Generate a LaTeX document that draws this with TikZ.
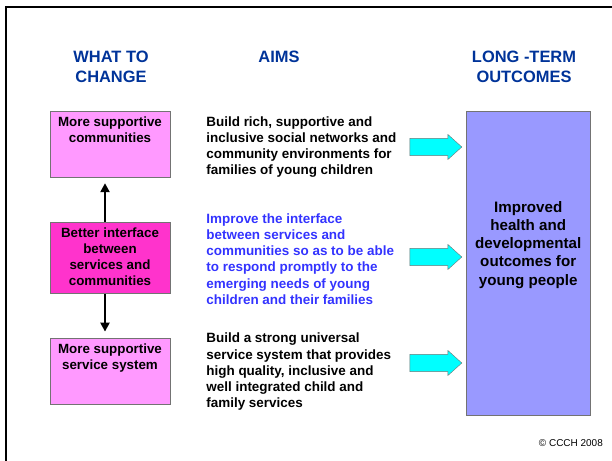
\documentclass[tikz,border=0pt]{standalone}
\usepackage{fontspec}
\setmainfont{Liberation Sans}
\usetikzlibrary{positioning,shapes.arrows,arrows.meta}
\definecolor{headblue}{HTML}{003399}
\definecolor{aimblue}{HTML}{3333FF}
\definecolor{softpink}{HTML}{FF99FF}
\definecolor{hotpink}{HTML}{FF33CC}
\definecolor{lilac}{HTML}{9999FF}
\definecolor{aqua}{HTML}{00FFFF}
\begin{document}
\begin{tikzpicture}[
        x=1bp, y=1bp,
        heading/.style={font=\fontsize{16.5}{20}\selectfont\bfseries, text=headblue, align=center, anchor=north, inner sep=0pt}, % Column titles
        changebox/.style={draw=black!55, minimum width=120bp, minimum height=66bp}, % Box styling
        boxtext/.style={anchor=north, align=center, inner sep=0pt, yshift=-6bp, font=\fontsize{13.4}{16.3}\selectfont\bfseries}, % Text at top of a box
        aim/.style={anchor=west, align=left, inner sep=0pt, font=\fontsize{13.5}{16.3}\selectfont\bfseries}, % Aim text
        blockarrow/.style={single arrow, draw=black!55, fill=aqua, minimum height=52bp, minimum width=25bp, inner sep=0pt, inner ysep=6.5bp, single arrow head extend=3bp, single arrow tip angle=84}, % Cyan arrows
        link/.style={line width=2.8bp, -{Triangle[length=9bp,width=9bp]}, shorten >=6bp} % Black arrows
        ]
        \useasboundingbox (0,0) rectangle (612,461);
        \draw[line width=2.5bp] (6,0) |- (612,454);

        % Column titles
        \node (changeTitle) [heading] at (111,410) {WHAT TO\\CHANGE};
        \node (aimsTitle) [heading] at (279,410) {AIMS};
        \node (outcomesTitle) [heading] at (524,410) {LONG -TERM\\OUTCOMES};

        % Define nodes
        \node (communities) [changebox, fill=softpink, label={[boxtext]north:More supportive\\communities}] at (110,317) {};
        \node (interface) [changebox, fill=hotpink, minimum height=71bp, below=45bp of communities, label={[boxtext, yshift=1bp]north:Better interface\\between\\services and\\communities}] {};
        \node (service) [changebox, fill=softpink, below=44bp of interface, label={[boxtext]north:More supportive\\service system}] {};

        \node (aimA) [aim, right=36bp of communities, yshift=-3bp] {Build rich, supportive and\\inclusive social networks and\\community environments for\\families of young children};
        \node (aimB) [aim, text=aimblue, right=36bp of interface, yshift=-1bp] {Improve the interface\\between services and\\communities so as to be able\\to respond promptly to the\\emerging needs of young\\children and their families};
        \node (aimC) [aim, right=36bp of service, yshift=-1bp] {Build a strong universal\\service system that provides\\high quality, inclusive and\\well integrated child and\\family services};

        \node (outcome) [draw=black!55, fill=lilac, minimum width=124bp, minimum height=304bp, anchor=north west, label={[boxtext, yshift=-84bp, font=\fontsize{15.2}{18.3}\selectfont\bfseries]north:Improved\\health and\\developmental\\outcomes for\\young people}] at (466,350) {};

        \node (arrowA) [blockarrow] at (431,314) {};
        \node (arrowB) [blockarrow] at (431,204) {};
        \node (arrowC) [blockarrow] at (431,98) {};

        % Draw arrows
        \draw[link] ([xshift=-5bp]interface.north) -- ([xshift=-5bp]communities.south);
        \draw[link] ([xshift=-5bp]interface.south) -- ([xshift=-5bp]service.north);

        \node (copyright) [anchor=east, inner sep=0pt, font=\fontsize{10}{12}\selectfont] at (603,18) {\textcopyright{} CCCH 2008};
    \end{tikzpicture}
\end{document}
